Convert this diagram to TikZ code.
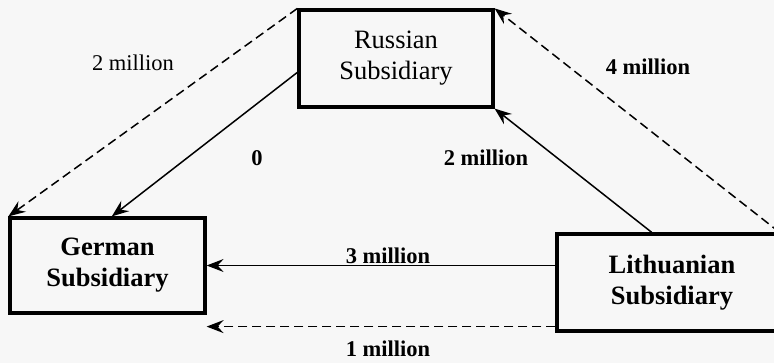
\documentclass[tikz,border=0pt]{standalone}
\usepackage{fontspec}
\setmainfont{Liberation Serif}
\usetikzlibrary{arrows.meta}

\tikzset{
  sub/.style={draw, line width=3.2pt, align=center, inner sep=0pt,
    font=\fontsize{26.5}{31}\selectfont},
  flow/.style={line width=1.5pt, -{Stealth[length=17pt,width=13pt,inset=6pt]}},
  plan/.style={flow, dash pattern=on 9pt off 5pt},
  amt/.style={font=\fontsize{22.5}{26}\selectfont\bfseries, inner sep=1pt},
}

\begin{document}
\begin{tikzpicture}[x=1pt,y=-1pt]

\clip (0,0) rectangle (774,363);
\fill [black!3] (0,0) rectangle (774,363);

% the three subsidiaries
\node [sub, minimum width=194pt, minimum height=97pt] (rus) at (396,58.5) {Russian\\Subsidiary};
\node [sub, minimum width=195pt, minimum height=95pt, font=\fontsize{26.5}{31}\selectfont\bfseries] (ger) at (107.5,265.5) {German\\Subsidiary};
\node [sub, minimum width=230pt, minimum height=97pt, font=\fontsize{26.5}{31}\selectfont\bfseries,
  text width=221pt] (lit) at (672,282.5) {Lithuanian\\Subsidiary};

% Russia -> Germany
\draw [plan] (rus.north west) -- (ger.north west);
\draw [flow] (rus.188) -- (ger.85);
\node [font=\fontsize{22.5}{26}\selectfont] (rg2) at (133,63) {2 million};
\node [amt] (rg0) at (257,158) {0};

% Lithuania -> Russia
\draw [flow] (lit.112) -- (rus.south east);
\draw [plan] ([xshift=-9pt]lit.north east) -- (rus.north east);
\node [amt] (lr2) at (486,158) {2 million};
\node [amt] (lr4) at (648,67) {4 million};

% Lithuania -> Germany
\draw [flow] (ger.east -| lit.west) -- (ger.east);
\draw [plan] ([yshift=6pt]lit.south west) -- ([yshift=6pt]lit.south west -| ger.east);
\node [amt] (lg3) at (388,256) {3 million};
\node [amt] (lg1) at (388,349) {1 million};

\end{tikzpicture}
\end{document}
